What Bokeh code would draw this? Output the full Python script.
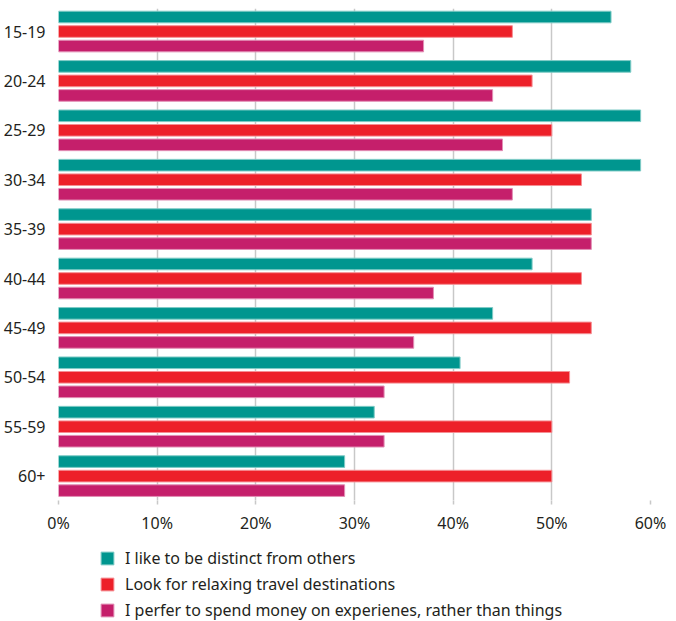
from bokeh.plotting import figure
from bokeh.layouts import column
from bokeh.models import (Range1d, FixedTicker, PrintfTickFormatter, Legend, LegendItem,
                          ColumnDataSource)
from bokeh.embed import file_html
from bokeh.resources import INLINE

categories = ["15-19", "20-24", "25-29", "30-34", "35-39", "40-44", "45-49", "50-54", "55-59", "60+"]
distinct = [56, 58, 59, 59, 54, 48, 44, 40.7, 32, 29]
relaxing = [46, 48, 50, 53, 54, 53, 54, 51.8, 50, 50]
experiences = [37, 44, 45, 46, 54, 38, 36, 33, 33, 29]
series_names = ["I like to be distinct from others",
                "Look for relaxing travel destinations",
                "I perfer to spend money on experienes, rather than things"]
x_ticks = [0, 10, 20, 30, 40, 50, 60]

colors = ["#00968f", "#ed2029", "#c51f6b"]
outlines = ["#7fcbc6", "#f58f94", "#e28fb5"]
FONT = "Noto Sans"

p = figure(width=666, height=540, output_backend="svg", toolbar_location=None,
           x_range=Range1d(0, 60), y_range=Range1d(9.494, -0.466),
           min_border_left=53, min_border_right=16, min_border_top=8, min_border_bottom=40)
p.outline_line_color = None
p.background_fill_color = "white"

idx = list(range(len(categories)))
offsets = [-0.294, 0.0, 0.294]
for vals, off, c, oc in zip([distinct, relaxing, experiences], offsets, colors, outlines):
    src = ColumnDataSource(dict(y=[i + off for i in idx], right=vals))
    p.hbar(y="y", right="right", left=0, height=0.235, source=src,
           fill_color=c, line_color=oc, line_width=1)

p.ygrid.grid_line_color = None
p.xgrid.grid_line_color = "#c8c8c8"
p.xgrid.grid_line_width = 1.5
p.xgrid.ticker = FixedTicker(ticks=x_ticks)

xa = p.xaxis[0]
xa.ticker = FixedTicker(ticks=x_ticks)
xa.formatter = PrintfTickFormatter(format="%d%%")
xa.axis_line_color = None
xa.major_tick_line_color = "#c8c8c8"
xa.major_tick_line_width = 1.5
xa.major_tick_out = 4
xa.major_tick_in = 0
xa.minor_tick_line_color = None
xa.major_label_text_font = FONT
xa.major_label_text_font_size = "16px"
xa.major_label_text_color = "#231f20"
xa.major_label_standoff = 7

ya = p.yaxis[0]
ya.ticker = FixedTicker(ticks=idx)
ya.major_label_overrides = {i: c for i, c in enumerate(categories)}
ya.axis_line_color = None
ya.major_tick_line_color = None
ya.minor_tick_line_color = None
ya.major_label_text_font = FONT
ya.major_label_text_font_size = "16px"
ya.major_label_text_color = "#231f20"
ya.major_label_standoff = 7

# legend panel (legend swatches use hidden stand-in bars outside the visible range)
p2 = figure(width=666, height=80, output_backend="svg", toolbar_location=None,
            x_range=Range1d(0, 1), y_range=Range1d(0, 1),
            min_border_left=53, min_border_right=16, min_border_top=0, min_border_bottom=0,
            x_axis_location=None, y_axis_location=None)
p2.outline_line_color = None
p2.grid.grid_line_color = None
items = []
for n, c, oc in zip(series_names, colors, outlines):
    src = ColumnDataSource(dict(y=[-5], right=[0]))
    r = p2.hbar(y="y", right="right", left=0, height=0.1, source=src,
                fill_color=c, line_color=oc, line_width=1)
    items.append(LegendItem(label=n, renderers=[r]))

legend = Legend(items=items, location=(41, -1), orientation="vertical")
legend.padding = 0
legend.margin = 0
legend.border_line_color = None
legend.background_fill_alpha = 0
legend.glyph_width = 16
legend.glyph_height = 16
legend.label_height = 13
legend.label_standoff = 10
legend.spacing = 4
legend.label_text_font = FONT
legend.label_text_font_size = "16px"
legend.label_text_color = "#231f20"
p2.add_layout(legend, "center")

layout = column(p, p2, spacing=0)
open("out.html", "w").write(file_html(layout, INLINE))
